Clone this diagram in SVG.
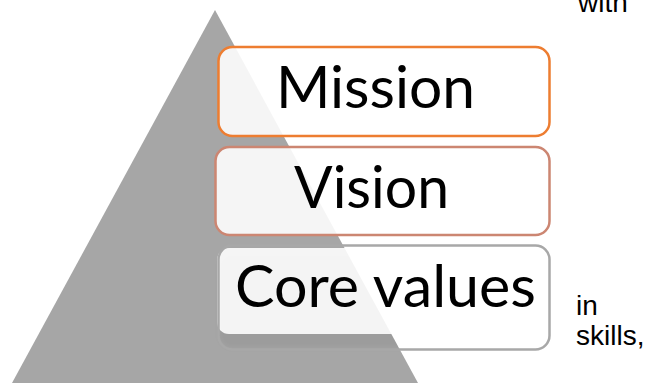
<svg xmlns="http://www.w3.org/2000/svg" width="661" height="384" viewBox="0 0 661 384">
  <defs>
    <style>
      .box { fill: #ffffff; fill-opacity: 0.89; }
      .outline { fill: none; stroke-width: 2.5; }
      .label { font-family: Lato, "Open Sans", "Liberation Sans", sans-serif; font-size: 58px; fill: #000000; }
      .side { font-family: "Liberation Sans", Arial, sans-serif; font-size: 28px; fill: #000000; }
    </style>
    <filter id="soft" x="-10%" y="-10%" width="120%" height="130%">
      <feGaussianBlur stdDeviation="2"/>
    </filter>
    <clipPath id="tri">
      <polygon points="215,10 418,383 12,383"/>
    </clipPath>
  </defs>
  <rect width="661" height="384" fill="#ffffff"/>

  <g id="pyramid">
    <polygon points="215,10 418,383 12,383" fill="#a6a6a6"/>
  </g>

  <g id="connectors"></g>

  <g id="mission">
    <rect class="box" x="218.5" y="47" width="331" height="89" rx="14"/>
    <rect class="outline" x="218.5" y="47" width="331" height="89" rx="14" stroke="#ed7d31"/>
    <text class="label" x="276" y="108" textLength="199" lengthAdjust="spacingAndGlyphs">Mission</text>
  </g>

  <g id="vision">
    <rect class="box" x="215.5" y="147" width="334" height="88" rx="14"/>
    <rect class="outline" x="215.5" y="147" width="334" height="88" rx="14" stroke="#cc8672"/>
    <text class="label" x="294" y="208" textLength="155" lengthAdjust="spacingAndGlyphs">Vision</text>
  </g>

  <g id="core-values">
    <g clip-path="url(#tri)">
      <rect x="219" y="254" width="330" height="94" rx="13" fill="#000000" fill-opacity="0.06" filter="url(#soft)"/>
    </g>
    <rect class="box" x="217" y="248" width="331" height="86" rx="12" fill-opacity="0.92"/>
    <rect class="outline" x="218.5" y="245.5" width="331" height="104" rx="14" stroke="#a8a8a8"/>
    <text class="label" x="235" y="307" textLength="301" lengthAdjust="spacingAndGlyphs">Core values</text>
  </g>

  <g id="side-text">
    <text class="side" x="578" y="12">with</text>
    <text class="side" x="576" y="315">in</text>
    <text class="side" x="576" y="345">skills,</text>
  </g>
</svg>
